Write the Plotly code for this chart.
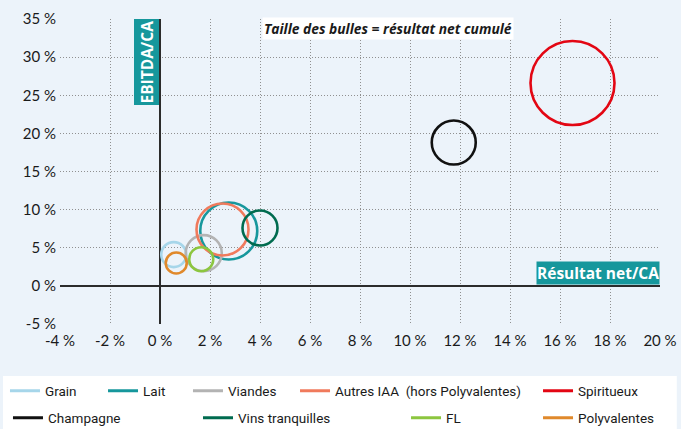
import plotly.graph_objects as go

# ---- data ----
sectors = ["Grain", "Lait", "Viandes", "Autres IAA  (hors Polyvalentes)", "Spiritueux",
           "Champagne", "Vins tranquilles", "FL", "Polyvalentes"]
resultat_net_ca = [0.55, 2.75, 1.75, 2.5, 16.5, 11.75, 4.0, 1.65, 0.65]     # x, %
ebitda_ca = [4.1, 7.2, 4.3, 7.4, 26.6, 18.8, 7.6, 3.5, 3.0]                  # y, %
resultat_cumule = [25, 57, 36, 52, 84, 44, 35, 24, 21]                       # bubble size
colors = ["#A6D6EA", "#16979C", "#B3B3B3", "#F07A5C", "#E30613",
          "#111111", "#006B4F", "#8CC63F", "#E0892B"]

x_ticks = [-4, -2, 0, 2, 4, 6, 8, 10, 12, 14, 16, 18, 20]
x_tick_labels = ["-4 %", "-2 %", "0 %", "2 %", "4 %", "6 %", "8 %", "10 %", "12 %",
                 "14 %", "16 %", "18 %", "20 %"]
y_ticks = [-5, 0, 5, 10, 15, 20, 25, 30, 35]
y_tick_labels = ["-5 %", "0 %", "5 %", "10 %", "15 %", "20 %", "25 %", "30 %", "35 %"]

# legend placement (paper coords, relative to plot area)
legend_pos = [(-0.0917, -0.2197), (0.0717, -0.2197), (0.2133, -0.2197), (0.3917, -0.2197),
              (0.7967, -0.2197),
              (-0.0867, -0.308), (0.23, -0.308), (0.5767, -0.308), (0.7967, -0.308)]

BG = "#ECF3FA"
fig = go.Figure()

for i, name in enumerate(sectors):
    fig.add_trace(go.Scatter(
        x=[resultat_net_ca[i]], y=[ebitda_ca[i]], mode="markers",
        marker=dict(size=resultat_cumule[i], sizemode="diameter", sizeref=1,
                    color="rgba(0,0,0,0)", line=dict(color=colors[i], width=2.6)),
        name=name, showlegend=False, hoverinfo="name"))

for i, name in enumerate(sectors):
    lg = "legend" if i == 0 else f"legend{i+1}"
    fig.add_trace(go.Scatter(
        x=[None], y=[None], mode="lines", line=dict(color=colors[i], width=3),
        name=name, showlegend=True, legend=lg))

legend_common = dict(orientation="h", bgcolor="rgba(0,0,0,0)", borderwidth=0,
                     font=dict(family="Roboto, sans-serif", size=13.5, color="#1a1a1a"),
                     xanchor="left", yanchor="middle", itemwidth=30, tracegroupgap=0)
legends = {}
for i, (lx, ly) in enumerate(legend_pos):
    key = "legend" if i == 0 else f"legend{i+1}"
    legends[key] = dict(legend_common, x=lx, y=ly)

grid = dict(showgrid=True, gridcolor="#909090", griddash="1px,2px", gridwidth=1,
            zeroline=True, zerolinecolor="#2b2b2b", zerolinewidth=1.6,
            showline=False, ticks="", tickfont=dict(size=15), fixedrange=True)

fig.update_layout(
    width=681, height=429,
    paper_bgcolor=BG, plot_bgcolor=BG,
    margin=dict(l=60, r=21, t=19, b=105, autoexpand=False),
    font=dict(family="Lato, Open Sans, sans-serif", size=15, color="#1a1a1a"),
    xaxis=dict(grid, range=[-4, 20], tickvals=x_ticks, ticktext=x_tick_labels,
               ticklabelstandoff=6),
    yaxis=dict(grid, range=[-5, 35], tickvals=y_ticks, ticktext=y_tick_labels,
               ticklabelstandoff=3),
    shapes=[dict(type="rect", xref="paper", yref="paper", x0=-0.095, x1=1.028,
                 y0=-0.35, y1=-0.1705, fillcolor="white", line=dict(width=0), layer="below")],
    annotations=[
        dict(text="<b>EBITDA/CA</b>", x=0, y=35, xref="x", yref="y", xanchor="right",
             yanchor="top", textangle=-90, showarrow=False, bgcolor="#16979C",
             font=dict(family="Open Sans, sans-serif", size=15.5, color="white"),
             borderpad=1, xshift=-1),
        dict(text="<b>Résultat net/CA</b>", x=20, y=0, xref="x", yref="y", xanchor="right",
             yanchor="bottom", showarrow=False, bgcolor="#16979C",
             font=dict(family="Open Sans, sans-serif", size=15.5, color="white"),
             borderpad=0, yshift=1),
        dict(text="<b><i>Taille des bulles = résultat net cumulé</i></b>", x=9.1, y=33.7,
             xref="x", yref="y", xanchor="center", yanchor="middle", showarrow=False,
             bgcolor="white", font=dict(family="Open Sans, sans-serif", size=13.8,
                                        color="#1a1a1a"), borderpad=1),
    ],
    **legends,
)

fig.write_html("out.html", config={"displayModeBar": False},
               post_script="document.body.style.margin='0';")
